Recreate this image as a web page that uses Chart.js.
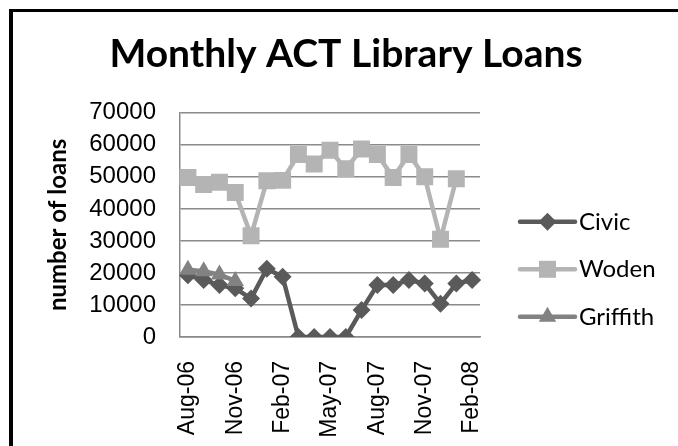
<!DOCTYPE html>
<html>
<head>
<meta charset="utf-8">
<title>Monthly ACT Library Loans</title>
<script src="https://cdn.jsdelivr.net/npm/chart.js@4.4.0/dist/chart.umd.min.js"></script>
<style>
    html, body { margin: 0; padding: 0; background: #fff; overflow: hidden; }
    #loansChart { display: block; }
</style>
</head>
<body>
<canvas id="loansChart" width="678" height="446"></canvas>
<script>
// months on the x axis (one point per month)
const months = ["Aug-06", "Sep-06", "Oct-06", "Nov-06", "Dec-06", "Jan-07", "Feb-07",
    "Mar-07", "Apr-07", "May-07", "Jun-07", "Jul-07", "Aug-07", "Sep-07", "Oct-07",
    "Nov-07", "Dec-07", "Jan-08", "Feb-08"];

// loans per branch
const civic = [19300, 17800, 16200, 15200, 12000, 21300, 18800, 0, 0, 0, 0, 8400,
    16200, 16200, 17800, 16700, 10400, 16700, 17800];
const woden = [49800, 47600, 48300, 45100, 31600, 48800, 48900, 57000, 54000, 58300,
    52500, 58700, 57000, 49800, 57000, 50000, 30500, 49400, null];
const griffith = [21000, 20500, 19500, 17500, null, null, null, null, null, null,
    null, null, null, null, null, null, null, null, null];

const yTicks = [0, 10000, 20000, 30000, 40000, 50000, 60000, 70000];

const seriesNames = ["Civic", "Woden", "Griffith"];
const seriesColors = ["#5a5a5a", "#b4b4b4", "#828282"];

// thick black frame, only its top and left sides are in view
const frame = {
    id: "frame",
    beforeDraw(chart) {
        const ctx = chart.ctx;
        ctx.save();
        ctx.fillStyle = "#000";
        ctx.fillRect(9, 9, chart.width - 9, 3);
        ctx.fillRect(9, 9, 4, chart.height - 9);
        ctx.restore();
    }
};

// legend on the right: line + marker + name, like the Excel one
const sideLegend = {
    id: "sideLegend",
    afterDraw(chart) {
        const ctx = chart.ctx;
        const area = chart.chartArea;
        chart.data.datasets.forEach((ds, i) => {
            const y = area.top + 109 + i * 47.5;
            const x0 = area.right + 40;
            ctx.save();
            ctx.strokeStyle = ds.borderColor;
            ctx.lineWidth = 4.5;
            ctx.lineCap = "round";
            ctx.beginPath();
            ctx.moveTo(x0, y);
            ctx.lineTo(x0 + 55, y);
            ctx.stroke();
            ctx.fillStyle = ds.pointBackgroundColor;
            Chart.helpers.drawPoint(ctx, {
                pointStyle: ds.pointStyle,
                radius: ds.pointRadius,
                rotation: 0,
                borderWidth: 0
            }, x0 + 27.5, y);
            ctx.fillStyle = "#000";
            ctx.font = "24px Lato";
            ctx.textBaseline = "middle";
            ctx.fillText(ds.label, x0 + 59, y);
            ctx.restore();
        });
    }
};

function makeSet(i, values, style, radius, order) {
    return {
        label: seriesNames[i],
        data: values,
        borderColor: seriesColors[i],
        backgroundColor: seriesColors[i],
        pointBackgroundColor: seriesColors[i],
        pointBorderWidth: 0,
        pointStyle: style,
        pointRadius: radius,
        pointHoverRadius: radius,
        borderWidth: 4.5,
        tension: 0,
        spanGaps: false,
        order: order
    };
}

const ctx = document.getElementById("loansChart").getContext("2d");
new Chart(ctx, {
    type: "line",
    data: {
        labels: months,
        datasets: [
            makeSet(0, civic, "rectRot", 9, 3),
            makeSet(1, woden, "rect", 12, 2),
            makeSet(2, griffith, "triangle", 10, 1)
        ]
    },
    options: {
        responsive: false,
        animation: false,
        layout: { padding: { left: 14, right: 0, top: 14, bottom: 0 } },
        plugins: {
            legend: { display: false },
            tooltip: { enabled: false },
            title: {
                display: true,
                text: "Monthly ACT Library Loans",
                color: "#000",
                font: { family: "Lato", size: 39, weight: "bold" },
                padding: { top: 17, bottom: 35 }
            }
        },
        scales: {
            x: {
                offset: true,
                grid: { display: false },
                border: { display: true, color: "#8a8a8a", width: 1.5 },
                ticks: {
                    autoSkip: false,
                    minRotation: 90,
                    maxRotation: 90,
                    padding: 16,
                    color: "#000",
                    font: { family: "Liberation Sans", size: 23 },
                    callback: function (value, index) {
                        return index % 3 === 0 ? months[index] : "";
                    }
                },
                afterFit: function (axis) {
                    axis.height = 109;
                }
            },
            y: {
                min: 0,
                max: 70000,
                afterBuildTicks: function (axis) {
                    axis.ticks = yTicks.map((v) => ({ value: v }));
                },
                grid: { color: "#8a8a8a", lineWidth: 1.5, drawTicks: false },
                border: { display: true, color: "#8a8a8a", width: 1.5 },
                ticks: {
                    autoSkip: false,
                    padding: 24,
                    color: "#000",
                    font: { family: "Liberation Sans", size: 24 },
                    callback: (value) => String(value)
                },
                title: {
                    display: true,
                    text: "number of loans",
                    color: "#000",
                    font: { family: "Lato", size: 24, weight: "bold" },
                    padding: { top: 30, bottom: 7 }
                }
            },
            // empty axis on the right that keeps room for the legend
            side: {
                type: "linear",
                position: "right",
                display: true,
                grid: { display: false, drawTicks: false },
                border: { display: false },
                ticks: { display: false },
                afterFit: function (axis) {
                    axis.width = 198;
                }
            }
        }
    },
    plugins: [frame, sideLegend]
});
</script>
</body>
</html>
